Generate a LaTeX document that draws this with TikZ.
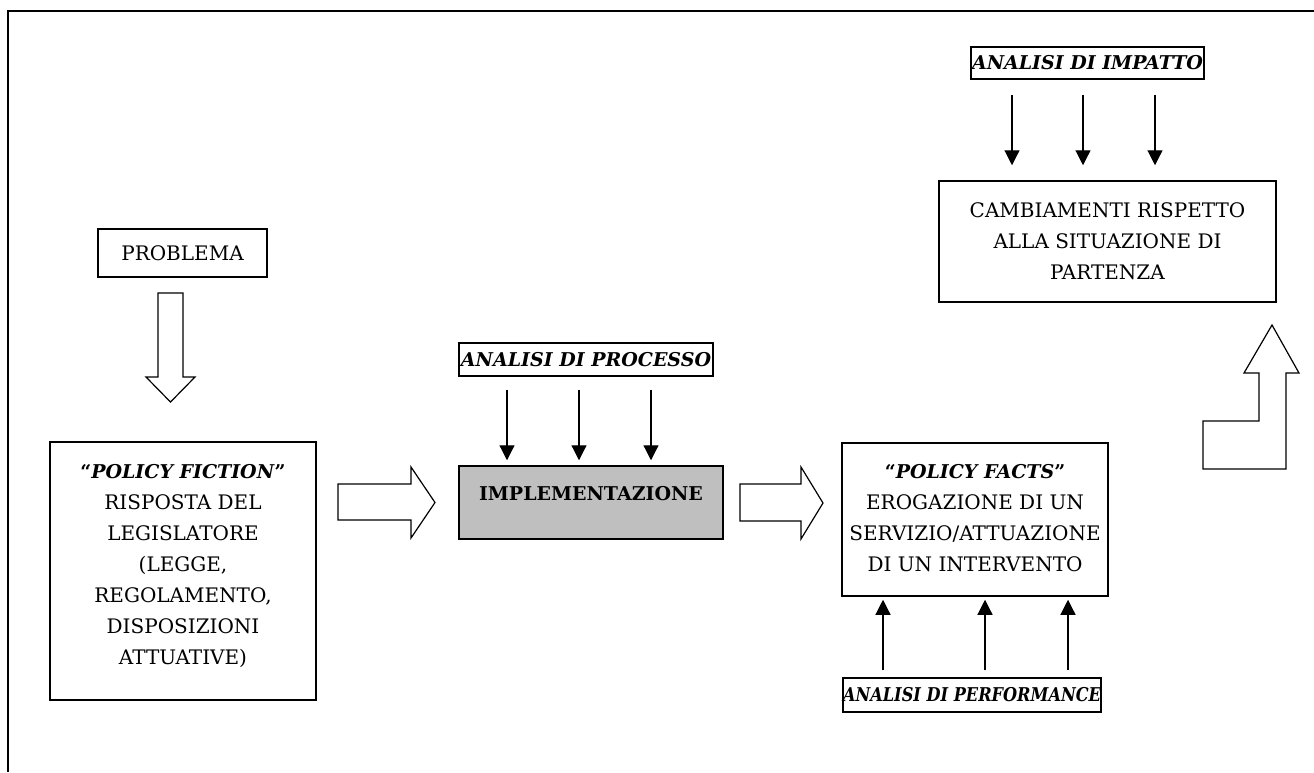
\documentclass[tikz,border=0pt]{standalone}
\usepackage{fontspec}
\setmainfont{DejaVu Serif}
\usetikzlibrary{arrows.meta,calc}
\begin{document}
\begin{tikzpicture}[x=1pt,y=-1pt,
  box/.style={draw, line width=1.5pt, inner sep=0pt},
  hollow/.style={draw, line width=1.2pt, fill=white, line join=miter},
  thinarrow/.style={line width=1.2pt, -{Triangle[length=15pt,width=15pt]}},
  txt/.style={font=\fontsize{20}{31}\selectfont, align=center},
  lab/.style={font=\fontsize{19}{22}\selectfont\bfseries\itshape}
]
\useasboundingbox (0,0) rectangle (1314,772);
\draw[line width=2pt] (8,772) -- (8,11) -- (1314,11);

% boxes
\node[box, minimum width=169pt, minimum height=48pt] (prob) at (182.5,253) {};
\node[txt] (probt) at (prob.center) {PROBLEMA};

\node[box, minimum width=266pt, minimum height=258pt] (fic) at (183,571) {};
\node[txt] (fict) at (183,566) {{\fontsize{19}{31}\selectfont\bfseries “\textit{POLICY FICTION}”}\\RISPOSTA DEL\\LEGISLATORE\\(LEGGE,\\REGOLAMENTO,\\DISPOSIZIONI\\ATTUATIVE)};

\node[box, minimum width=254pt, minimum height=33pt] (proc) at (586,359.5) {};
\node[lab] (proct) at (proc.center) {ANALISI DI PROCESSO};

\node[box, fill=black!25, minimum width=264pt, minimum height=73pt] (impl) at (591,502.5) {};
\node[txt, font=\fontsize{19}{31}\selectfont\bfseries] (implt) at (591,494) {IMPLEMENTAZIONE};

\node[box, minimum width=266pt, minimum height=153pt] (facts) at (975,519.5) {};
\node[txt] (factst) at (975,518) {{\fontsize{19}{31}\selectfont\bfseries “\textit{POLICY FACTS}”}\\EROGAZIONE DI UN\\SERVIZIO/ATTUAZIONE\\DI UN INTERVENTO};

\node[box, minimum width=258pt, minimum height=34pt] (perf) at (972,695) {};
\node[lab] (perft) at (perf.center) {\scalebox{0.85}[1]{ANALISI DI PERFORMANCE}};

\node[box, minimum width=233pt, minimum height=32pt] (imp) at (1087.5,63) {};
\node[lab] (impt) at (imp.center) {ANALISI DI IMPATTO};

\node[box, minimum width=337pt, minimum height=121pt] (camb) at (1107.5,241.5) {};
\node[txt] (cambt) at (1107.5,241) {CAMBIAMENTI RISPETTO\\ALLA SITUAZIONE DI\\PARTENZA};

% thin arrows
\foreach \x [count=\i] in {507,579,651}{
  \coordinate (pa\i) at (\x,0);
  \draw[thinarrow] ($(proc.south -| pa\i)+(0,13)$) -- ($(impl.north -| pa\i)+(0,-5)$);
}
\foreach \x [count=\i] in {883,985,1068}{
  \coordinate (pf\i) at (\x,0);
  \draw[thinarrow] ($(perf.north -| pf\i)+(0,-7)$) -- ($(facts.south -| pf\i)+(0,3)$);
}
\foreach \x [count=\i] in {1012,1083,1155}{
  \coordinate (pi\i) at (\x,0);
  \draw[thinarrow] ($(imp.south -| pi\i)+(0,15)$) -- ($(camb.north -| pi\i)+(0,-15)$);
}

% hollow block arrows
\draw[hollow] (158,293) -- (183,293) -- (183,377) -- (195,377) -- (170.5,402) -- (146,377) -- (158,377) -- cycle;
\draw[hollow] (338,484) -- (411,484) -- (411,467) -- (435,502.5) -- (411,538) -- (411,520) -- (338,520) -- cycle;
\draw[hollow] (740,484) -- (801,484) -- (801,467) -- (823,503) -- (801,539) -- (801,521) -- (740,521) -- cycle;
\draw[hollow] (1203,469) -- (1286,469) -- (1286,373) -- (1299,373) -- (1272,325) -- (1244,373) -- (1259,373) -- (1259,421) -- (1203,421) -- cycle;
\end{tikzpicture}
\end{document}
